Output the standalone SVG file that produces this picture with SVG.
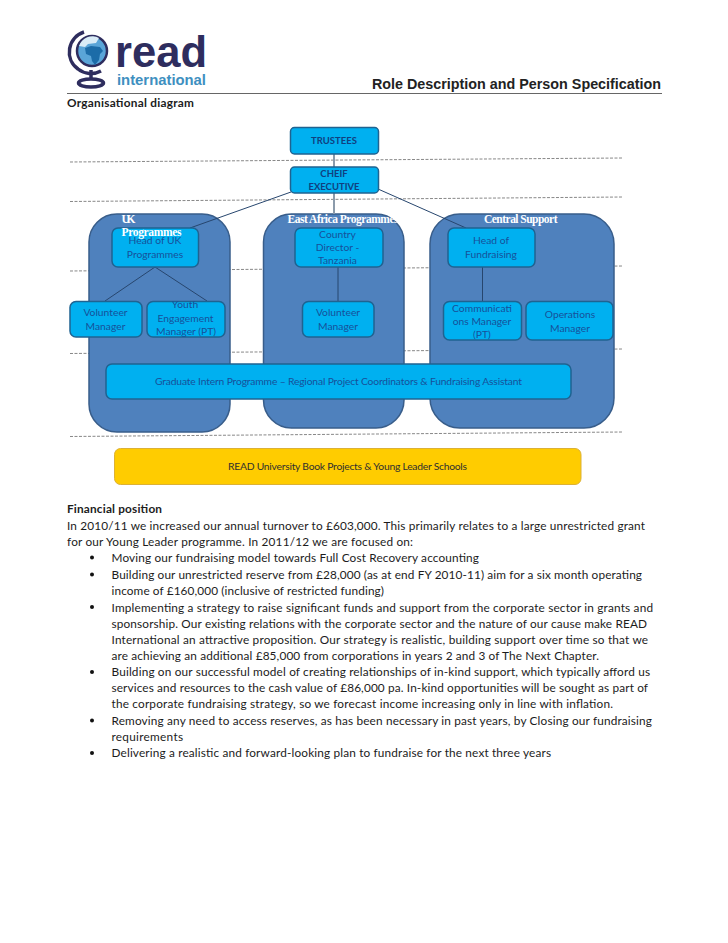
<svg xmlns="http://www.w3.org/2000/svg" width="728" height="943" viewBox="0 0 728 943">
<style>
text{font-family:"Lato","Liberation Sans",sans-serif}
.body{font-size:11.8px;fill:#1c1c1c}
.b{font-weight:700}
.panel{fill:#4f81bd;stroke:#385d8a;stroke-width:1.5}
.node{fill:#00b0f0;stroke:#1f6391;stroke-width:1.5}
.n{font-size:10.3px;fill:#17509a;text-anchor:middle}
.nb{font-size:9.5px;fill:#10407f;text-anchor:middle;font-weight:700}
.pt{font-family:"Liberation Serif",serif;font-size:11.5px;font-weight:700;fill:#fff}
.dash{stroke:#888;stroke-width:1;stroke-dasharray:3 1.5;fill:none}
.con{stroke:#27466e;stroke-width:1;fill:none}
.bullet{fill:#111}
</style>
<rect width="728" height="943" fill="#fff"/>
<g id="logo">
<circle cx="92" cy="51" r="15" fill="#5aa5d8" stroke="#2e2d5e" stroke-width="2.500"/>
<path d="M79 46a14 14 0 0 1 20-8l-3 5-8 1-3 3z" fill="#d9ecf7"/>
<path d="M85 48l6-2 9 1 3 4-3 3-1 6-4 5-3-4-1-5-5-2z" fill="#1c6ca8"/>
<path d="M84 32A21 21 0 0 0 78 69A21 21 0 0 0 101 71" fill="none" stroke="#2e2d5e" stroke-width="3.500"/>
<path d="M91 70V79" fill="none" stroke="#2e2d5e" stroke-width="3.500"/>
<ellipse cx="91" cy="83" rx="12.500" ry="4" fill="none" stroke="#2e2d5e" stroke-width="3.500"/>
<text x="115" y="67" textLength="92" lengthAdjust="spacingAndGlyphs" style="font-family:'Liberation Sans',sans-serif;font-size:44px;font-weight:700;fill:#2e2d5e">read</text>
<text x="117" y="85" textLength="89" lengthAdjust="spacingAndGlyphs" style="font-family:'Liberation Sans',sans-serif;font-size:15px;font-weight:700;fill:#3e8fc0">international</text>
</g>
<text x="372" y="88.500" textLength="289" lengthAdjust="spacingAndGlyphs" style="font-family:'Liberation Sans',sans-serif;font-size:14px;font-weight:700;fill:#222">Role Description and Person Specification</text>
<line x1="67" y1="93.500" x2="662" y2="93.500" stroke="#666" stroke-width="1"/>
<text class="body b" x="67" y="107" textLength="127">Organisational diagram</text>
<g id="levels">
<line class="dash" x1="70" y1="162" x2="623" y2="158"/>
<line class="dash" x1="70" y1="201.500" x2="623" y2="197"/>
<line class="dash" x1="70" y1="271" x2="623" y2="266"/>
<line class="dash" x1="70" y1="353.500" x2="623" y2="349"/>
<line class="dash" x1="70" y1="436.500" x2="623" y2="432"/>
</g>
<g id="panel-uk"><rect class="panel" x="89" y="214" width="141" height="218" rx="28"/></g>
<g id="panel-east-africa"><rect class="panel" x="263.500" y="214" width="140.500" height="214" rx="28"/></g>
<g id="panel-central"><rect class="panel" x="430" y="214" width="184" height="214" rx="30"/></g>
<g id="connectors">
<path d="M334 154V214" stroke="#8c9bab" stroke-width="2" fill="none"/>
<line class="con" x1="291" y1="192" x2="190" y2="228"/>
<line class="con" x1="378" y1="189" x2="466" y2="228"/>
<line class="con" x1="155" y1="267" x2="105" y2="301"/>
<line class="con" x1="155" y1="267" x2="207" y2="301"/>
<line class="con" x1="338" y1="267" x2="338" y2="301"/>
<line class="con" x1="482.500" y1="267" x2="482.500" y2="301"/>
</g>
<g id="trustees"><rect class="node" x="290.500" y="127.500" width="88" height="26.500" rx="4"/><text class="nb" x="334" y="144">TRUSTEES</text></g>
<g id="chief-executive"><rect class="node" x="290.500" y="167" width="88" height="26" rx="4"/><text class="nb" x="334" y="177">CHEIF</text><text class="nb" x="334" y="190">EXECUTIVE</text></g>
<g id="head-uk"><rect class="node" x="112" y="228" width="86.500" height="39" rx="6"/><text class="n" x="155" y="244">Head of UK</text><text class="n" x="155" y="258">Programmes</text></g>
<g id="volunteer-uk"><rect class="node" x="70" y="301.500" width="72" height="35.500" rx="6"/><text class="n" x="105.500" y="316">Volunteer</text><text class="n" x="105.500" y="330">Manager</text></g>
<g id="youth"><rect class="node" x="147" y="301.500" width="78" height="35.500" rx="6"/><text class="n" x="185" y="308">Youth</text><text class="n" x="185.500" y="322">Engagement</text><text class="n" x="186" y="335">Manager (PT)</text></g>
<g id="country"><rect class="node" x="295" y="228" width="88" height="39" rx="6"/><text class="n" x="337.500" y="238">Country</text><text class="n" x="337.500" y="251">Director -</text><text class="n" x="337.500" y="264">Tanzania</text></g>
<g id="volunteer-ea"><rect class="node" x="302.500" y="301.500" width="71.500" height="35.500" rx="6"/><text class="n" x="338" y="316">Volunteer</text><text class="n" x="338" y="330">Manager</text></g>
<g id="head-fundraising"><rect class="node" x="448" y="228" width="87" height="39" rx="6"/><text class="n" x="491" y="244">Head of</text><text class="n" x="491" y="258">Fundraising</text></g>
<g id="communications"><rect class="node" x="443.500" y="301.500" width="78" height="38.500" rx="6"/><text class="n" x="482" y="312">Communicati</text><text class="n" x="482" y="325">ons Manager</text><text class="n" x="482" y="338">(PT)</text></g>
<g id="operations"><rect class="node" x="526" y="301.500" width="87" height="38.500" rx="6"/><text class="n" x="570" y="318">Operations</text><text class="n" x="570" y="332">Manager</text></g>
<g id="graduate"><rect class="node" x="106" y="364" width="465" height="35" rx="6"/><text class="n" x="155" y="385" textLength="367" style="text-anchor:start">Graduate Intern Programme – Regional Project Coordinators &amp; Fundraising Assistant</text></g>
<g id="book-projects"><rect x="114.500" y="448.500" width="466.500" height="36" rx="6" fill="#ffcc00" stroke="#dcb136" stroke-width="1"/><text x="228" y="470" textLength="239" style="font-size:10.300px;fill:#2f2f2f">READ University Book Projects &amp; Young Leader Schools</text></g>
<g id="panel-titles">
<text class="pt" x="121.500" y="222.500" textLength="14">UK</text>
<text class="pt" x="121.500" y="236" textLength="60">Programmes</text>
<text class="pt" x="287.500" y="223" textLength="111">East Africa Programmes</text>
<text class="pt" x="484" y="223" textLength="73.500">Central Support</text>
</g>
<g id="financial">
<text class="body b" x="67" y="513" textLength="95">Financial position</text>
<text class="body" x="67" y="530" textLength="578">In 2010/11 we increased our annual turnover to £603,000. This primarily relates to a large unrestricted grant</text>
<text class="body" x="67" y="546" textLength="346">for our Young Leader programme. In 2011/12 we are focused on:</text>
<circle class="bullet" cx="92" cy="557.500" r="2"/>
<text class="body" x="111.500" y="562" textLength="367.500">Moving our fundraising model towards Full Cost Recovery accounting</text>
<circle class="bullet" cx="92" cy="574.500" r="2"/>
<text class="body" x="111.500" y="579" textLength="530.500">Building our unrestricted reserve from £28,000 (as at end FY 2010-11) aim for a six month operating</text>
<text class="body" x="111.500" y="595" textLength="272.500">income of £160,000 (inclusive of restricted funding)</text>
<circle class="bullet" cx="92" cy="607" r="2"/>
<text class="body" x="111.500" y="611.500" textLength="541.500">Implementing a strategy to raise significant funds and support from the corporate sector in grants and</text>
<text class="body" x="111.500" y="627.500" textLength="535.500">sponsorship. Our existing relations with the corporate sector and the nature of our cause make READ</text>
<text class="body" x="111.500" y="644" textLength="536.500">International an attractive proposition. Our strategy is realistic, building support over time so that we</text>
<text class="body" x="111.500" y="660" textLength="487.500">are achieving an additional £85,000 from corporations in years 2 and 3 of The Next Chapter.</text>
<circle class="bullet" cx="92" cy="672" r="2"/>
<text class="body" x="111.500" y="676" textLength="538.500">Building on our successful model of creating relationships of in-kind support, which typically afford us</text>
<text class="body" x="111.500" y="692" textLength="536.500">services and resources to the cash value of £86,000 pa. In-kind opportunities will be sought as part of</text>
<text class="body" x="111.500" y="708" textLength="501.500">the corporate fundraising strategy, so we forecast income increasing only in line with inflation.</text>
<circle class="bullet" cx="92" cy="720.500" r="2"/>
<text class="body" x="111.500" y="725" textLength="540.500">Removing any need to access reserves, as has been necessary in past years, by Closing our fundraising</text>
<text class="body" x="111.500" y="741" textLength="71.500">requirements</text>
<circle class="bullet" cx="92" cy="753" r="2"/>
<text class="body" x="111.500" y="757" textLength="439.500">Delivering a realistic and forward-looking plan to fundraise for the next three years</text>
</g>
</svg>
